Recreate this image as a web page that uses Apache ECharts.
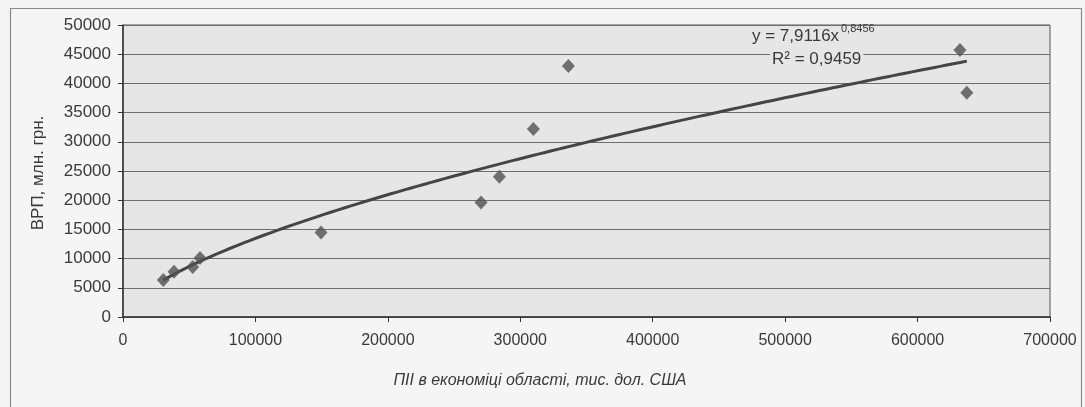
<!DOCTYPE html>
<html>
<head>
<meta charset="utf-8">
<script src="https://cdn.jsdelivr.net/npm/echarts@6/dist/echarts.min.js"></script>
<style>
html,body{margin:0;padding:0;background:#f5f5f5;}
#chart{width:1085px;height:407px;}
</style>
</head>
<body>
<div id="chart"></div>
<script>
// FDI (thousand USD) vs GRP (million UAH)
const fdiValues = [30440, 38520, 52640, 58160, 149550, 270390, 284220, 309900, 336330, 632000, 637200];
const grpValues = [6350, 7730, 8580, 10100, 14470, 19600, 24000, 32200, 42970, 45700, 38400];
const xTicks = [0, 100000, 200000, 300000, 400000, 500000, 600000, 700000];
const yTicks = [0, 5000, 10000, 15000, 20000, 25000, 30000, 35000, 40000, 45000, 50000];
const xAxisTitle = 'ПІІ в економіці області, тис. дол. США';
const yAxisTitle = 'ВРП, млн. грн.';
const equationMain = 'y = 7,9116x';
const equationExp = '0,8456';
const rSquaredText = 'R² = 0,9459';

const points = fdiValues.map((x, i) => [x, grpValues[i]]);

// Power trend line (least squares in log-log space), like the spreadsheet trend line
function powerTrend(xs, ys, steps) {
  const lx = xs.map(Math.log), ly = ys.map(Math.log);
  const n = xs.length;
  const mx = lx.reduce((a, b) => a + b, 0) / n;
  const my = ly.reduce((a, b) => a + b, 0) / n;
  let sxy = 0, sxx = 0;
  for (let i = 0; i < n; i++) { sxy += (lx[i] - mx) * (ly[i] - my); sxx += (lx[i] - mx) ** 2; }
  const b = sxy / sxx, a = Math.exp(my - b * mx);
  const xmin = Math.min(...xs), xmax = Math.max(...xs);
  const out = [];
  for (let k = 0; k <= steps; k++) {
    const x = xmin + (xmax - xmin) * k / steps;
    out.push([x, a * Math.pow(x, b)]);
  }
  return out;
}
const trend = powerTrend(fdiValues, grpValues, 120);

const chart = echarts.init(document.getElementById('chart'), null, {renderer: 'canvas'});
const FONT = '"Liberation Sans", Arial, sans-serif';
const PLOT_BG = '#e6e6e6';
chart.setOption({
  animation: false,
  backgroundColor: '#f5f5f5',
  grid: {left: 123, right: 35, top: 25, bottom: 90, show: true, backgroundColor: PLOT_BG, borderColor: '#555', borderWidth: 1},
  xAxis: {
    type: 'value', min: xTicks[0], max: xTicks[xTicks.length - 1], interval: xTicks[1] - xTicks[0],
    axisLine: {show: true, onZero: false, lineStyle: {color: '#333', width: 1.5}},
    axisTick: {show: true, length: 5, lineStyle: {color: '#333'}},
    axisLabel: {color: '#3a3a3a', fontFamily: FONT, fontSize: 16, margin: 16, formatter: v => String(v)},
    splitLine: {show: false}
  },
  yAxis: {
    type: 'value', min: yTicks[0], max: yTicks[yTicks.length - 1], interval: yTicks[1] - yTicks[0],
    axisLine: {show: true, lineStyle: {color: '#333', width: 1.5}},
    axisTick: {show: true, length: 5, lineStyle: {color: '#333'}},
    axisLabel: {color: '#3a3a3a', fontFamily: FONT, fontSize: 17, margin: 12, formatter: v => String(v)},
    splitLine: {show: true, lineStyle: {color: '#6e6e6e', width: 1.2}}
  },
  series: [
    {
      type: 'line', data: trend, showSymbol: false, smooth: false,
      lineStyle: {color: '#454545', width: 3}, z: 2
    },
    {
      type: 'scatter', data: points, symbol: 'diamond', symbolSize: [13, 14],
      itemStyle: {color: '#505050'}, z: 3
    }
  ],
  graphic: [
    {type: 'rect', shape: {x: 10.5, y: 8.5, width: 1071, height: 420}, style: {fill: 'none', stroke: '#8a8a8a', lineWidth: 1.2}, silent: true, z: -1},
    {type: 'text', x: 38, y: 173, rotation: Math.PI / 2, style: {text: yAxisTitle, fill: '#3a3a3a', font: '17px ' + FONT, textAlign: 'center', textVerticalAlign: 'middle'}},
    {type: 'text', x: 540, y: 381, style: {text: xAxisTitle, fill: '#3a3a3a', font: 'italic 16px ' + FONT, textAlign: 'center', textVerticalAlign: 'middle'}},
    {type: 'text', x: 752, y: 36, z: 10, style: {text: equationMain, fill: '#3a3a3a', font: '17px ' + FONT, textAlign: 'left', textVerticalAlign: 'middle', backgroundColor: PLOT_BG}},
    {type: 'text', x: 841, y: 29, z: 10, style: {text: equationExp, fill: '#3a3a3a', font: '11px ' + FONT, textAlign: 'left', textVerticalAlign: 'middle'}},
    {type: 'text', x: 770, y: 59, z: 10, style: {text: rSquaredText, fill: '#3a3a3a', font: '17px ' + FONT, textAlign: 'left', textVerticalAlign: 'middle', backgroundColor: PLOT_BG, padding: [1, 2]}}
  ]
});
</script>
</body>
</html>
